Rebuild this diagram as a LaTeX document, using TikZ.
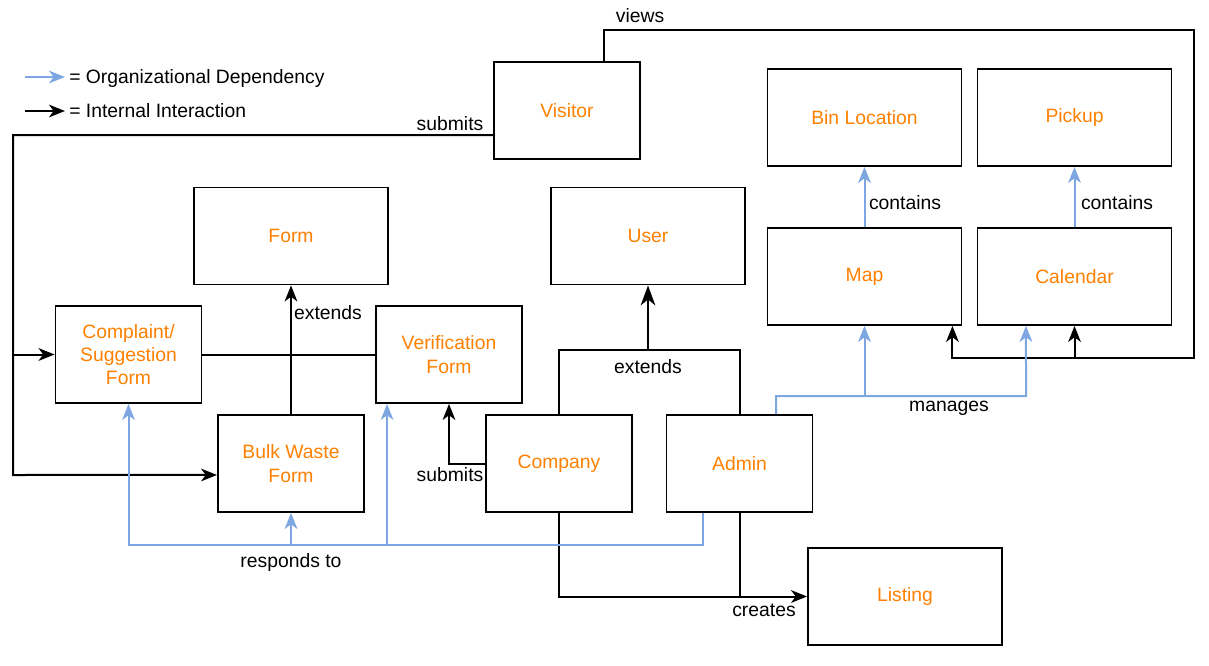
\documentclass[tikz,border=0pt]{standalone}
\usepackage{fontspec}
\setmainfont{Liberation Sans}
\usepackage{xcolor}
\usetikzlibrary{arrows.meta}
\definecolor{boxorange}{HTML}{FF8000}
\definecolor{depblue}{HTML}{7EA6E0}

\begin{document}
\begin{tikzpicture}[x=0.75pt,y=-0.75pt,
  wide/.style={draw,line width=1.4pt,minimum width=145.5pt,minimum height=72.75pt,inner sep=0pt,text=boxorange,align=center,font=\fontsize{14.5}{17.5}\selectfont},
  narrow/.style={wide,minimum width=109.5pt},
  lbl/.style={inner sep=0pt,text height=10.4pt,text depth=0pt,font=\fontsize{14.5}{17.5}\selectfont},
  plain/.style={line width=1.5pt},
  inter/.style={plain,-{Stealth[length=12pt,width=9.5pt,inset=3.5pt]}},
  dep/.style={draw=depblue,line width=1.5pt},
  org/.style={dep,-{Stealth[length=12pt,width=9.5pt,inset=3.5pt]}}]
\useasboundingbox (0,0) rectangle (1209,666);

\draw (567,110.5) node[narrow](visitor) {Visitor};
\draw (291,236) node[wide](form) {Form};
\draw (648,236) node[wide](user) {User};
\draw (864.5,117.5) node[wide](bin) {Bin Location};
\draw (1074.5,117.5) node[wide](pickup) {Pickup};
\draw (864.5,276.5) node[wide](map) {Map};
\draw (1074.5,276.5) node[wide](calendar) {Calendar};
\draw (128.5,354.5) node[narrow](complaint) {Complaint/\\Suggestion\\Form};
\draw (449,354.5) node[narrow](verif) {Verification\\Form};
\draw (291,463.5) node[narrow](bulk) {Bulk Waste\\Form};
\draw (559,463.5) node[narrow](company) {Company};
\draw (739.5,463.5) node[narrow](admin) {Admin};
\draw (905,596.5) node[wide](listing) {Listing};

% bend points
\coordinate (lft) at (13,475);
\coordinate (vtop) at (1194,30);
\coordinate (vbot) at (1194,358);
\coordinate (ext) at (648,350);
\coordinate (rsp) at (128.5,545);
\coordinate (mng) at (1026,396);
\coordinate (orgtail) at (25,77);
\coordinate (inttail) at (25,111);

% legend
\draw (69,77) node[lbl,anchor=west](orgtxt) {= Organizational Dependency};
\draw (69,111) node[lbl,anchor=west](inttxt) {= Internal Interaction};
\draw[org,shorten >=3pt] (orgtail) -- (orgtxt.west);
\draw[inter,shorten >=3pt] (inttail) -- (inttxt.west);

% visitor
\draw[inter] ([yshift=-18.4pt]visitor.west) -| (lft) -- ([yshift=-8.6pt]bulk.west);
\draw[inter] (lft |- complaint.west) -- (complaint.west);
\draw[inter] ([xshift=27.75pt]visitor.north) |- (vtop) -- (vbot) -| ([xshift=-7.5pt]map.south east);
\draw[inter] (calendar.south |- vbot) -- (calendar.south);

% forms
\draw[inter] (bulk.north) -- (form.south);
\draw[plain] (complaint.east) -- (verif.west);

% users
\draw[plain] (company.north) |- (ext) -| (admin.north);
\draw[plain,-{Stealth[length=15pt,width=11pt,inset=4.5pt]}] (ext) -- (user.south);
\draw[inter] (company.west) -| (verif.south);
\draw[inter] (company.south) |- (listing.west);
\draw[plain] (admin.south) -- (admin.south |- listing.west);

% admin dependencies
\draw[org] ([xshift=-27.4pt]admin.south) |- (rsp) -- (complaint.south);
\draw[org] (bulk.south |- rsp) -- (bulk.south);
\draw[org] ([xshift=9pt]verif.south west |- rsp) -- ([xshift=9pt]verif.south west);
\draw[org] ([xshift=27.4pt]admin.north) |- (mng) -- ([xshift=-36.4pt]calendar.south);
\draw[org] (map.south |- mng) -- (map.south);
\draw[org] (map.north) -- (bin.south);
\draw[org] (calendar.north) -- (pickup.south);

% labels
\draw (450,124) node[lbl](lsubv) {submits};
\draw (640,16) node[lbl](lviews) {views};
\draw (328,313) node[lbl](lextf) {extends};
\draw (648,367) node[lbl](lextu) {extends};
\draw (450,475) node[lbl](lsubc) {submits};
\draw (291,561) node[lbl](lresp) {responds to};
\draw (949,405) node[lbl](lman) {manages};
\draw (764,610) node[lbl](lcre) {creates};
\draw (905,203) node[lbl](lconm) {contains};
\draw (1117,203) node[lbl](lconc) {contains};
\end{tikzpicture}
\end{document}
